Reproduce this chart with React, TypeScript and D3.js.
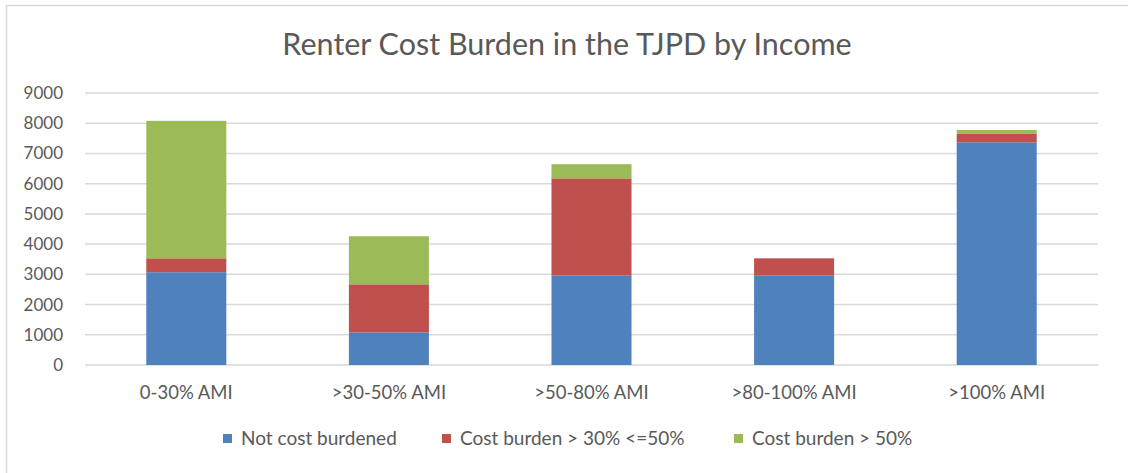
import { useEffect, useRef } from 'react';
import * as d3 from 'd3';

const categories = ['0-30% AMI', '>30-50% AMI', '>50-80% AMI', '>80-100% AMI', '>100% AMI'];
const seriesNames = ['Not cost burdened', 'Cost burden > 30% <=50%', 'Cost burden > 50%'];
const notBurdened = [3070, 1080, 2955, 2955, 7370];
const burden30to50 = [460, 1590, 3220, 575, 275];
const burdenOver50 = [4550, 1590, 470, 0, 130];
const yTicks = [0, 1000, 2000, 3000, 4000, 5000, 6000, 7000, 8000, 9000];
const colors = ['#4F81BD', '#C0504D', '#9BBB59'];

const App = () => {
    const svgRef = useRef<SVGSVGElement>(null);

    useEffect(() => {
        const svg = d3.select(svgRef.current);
        svg.selectAll('*').remove();

        const width = 1128;
        const height = 473;
        const margin = { top: 93, right: 30, bottom: 108, left: 85 };
        const font = 'Lato, "Open Sans", sans-serif';
        const textColor = '#595959';

        // chart frame
        svg.append('rect')
            .attr('x', 6.5)
            .attr('y', 5.5)
            .attr('width', width + 10)
            .attr('height', height + 10)
            .attr('fill', '#fff')
            .attr('stroke', '#D9D9D9')
            .attr('stroke-width', 1.5);

        const rows = categories.map((c, i) => ({
            cat: c,
            s0: notBurdened[i],
            s1: burden30to50[i],
            s2: burdenOver50[i],
        }));

        const stack = d3.stack<any>().keys(['s0', 's1', 's2']);
        const stacked = stack(rows);

        const x = d3
            .scaleBand()
            .domain(categories)
            .range([margin.left, width - margin.right])
            .paddingInner(0.605)
            .paddingOuter(0.3025);

        const y = d3.scaleLinear().domain([0, 9000]).range([height - margin.bottom, margin.top]);

        // gridlines
        svg.append('g')
            .selectAll('line')
            .data(yTicks)
            .enter()
            .append('line')
            .attr('x1', margin.left)
            .attr('x2', width - margin.right)
            .attr('y1', (d) => y(d))
            .attr('y2', (d) => y(d))
            .attr('stroke', '#D9D9D9')
            .attr('stroke-width', 1.5);

        // y tick labels
        svg.append('g')
            .selectAll('text')
            .data(yTicks)
            .enter()
            .append('text')
            .attr('x', 63)
            .attr('y', (d) => y(d))
            .attr('dy', '0.35em')
            .attr('text-anchor', 'end')
            .attr('font-family', font)
            .attr('font-size', 17)
            .attr('fill', textColor)
            .text((d) => d);

        // bars
        stacked.forEach((layer, li) => {
            svg.append('g')
                .selectAll('rect')
                .data(layer)
                .enter()
                .append('rect')
                .attr('x', (d) => x(d.data.cat)!)
                .attr('width', x.bandwidth())
                .attr('y', (d) => y(d[1]))
                .attr('height', (d) => y(d[0]) - y(d[1]))
                .attr('fill', colors[li]);
        });

        // x labels
        svg.append('g')
            .selectAll('text')
            .data(categories)
            .enter()
            .append('text')
            .attr('x', (d) => x(d)! + x.bandwidth() / 2)
            .attr('y', 399)
            .attr('text-anchor', 'middle')
            .attr('font-family', font)
            .attr('font-size', 18.5)
            .attr('fill', textColor)
            .text((d) => d);

        // title
        svg.append('text')
            .attr('x', 567)
            .attr('y', 55)
            .attr('text-anchor', 'middle')
            .attr('font-family', font)
            .attr('font-size', 30.5)
            .attr('fill', textColor)
            .text('Renter Cost Burden in the TJPD by Income');

        // legend
        const legendX = [223, 442, 734];
        const legend = svg.append('g');
        seriesNames.forEach((name, i) => {
            const row = legend.append('g').attr('transform', `translate(${legendX[i]}, 438)`);
            row.append('rect')
                .attr('x', 0)
                .attr('y', -4)
                .attr('width', 9)
                .attr('height', 9)
                .attr('fill', colors[i]);
            row.append('text')
                .attr('x', 18)
                .attr('y', 0)
                .attr('dy', '0.35em')
                .attr('font-family', font)
                .attr('font-size', 19)
                .attr('fill', textColor)
                .text(name);
        });
    }, []);

    return (
        <div>
            <svg
                ref={svgRef}
                width={1128}
                height={473}
                style={{ position: 'absolute', left: 0, top: 0, background: '#fff' }}
            ></svg>
        </div>
    );
};

export default App;
